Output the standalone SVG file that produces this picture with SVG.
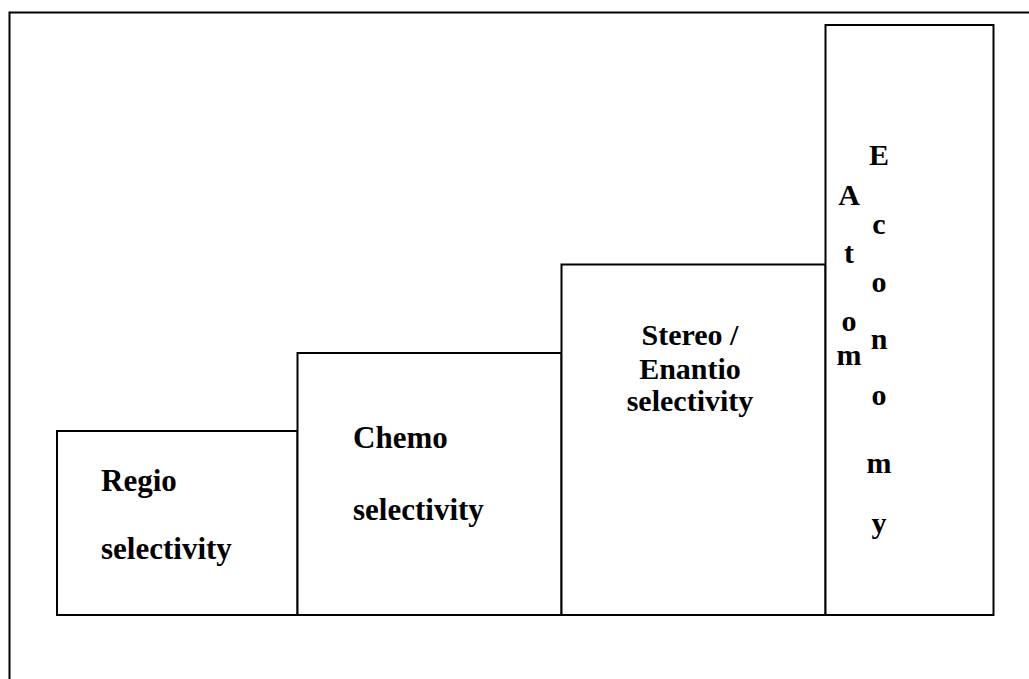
<svg xmlns="http://www.w3.org/2000/svg" width="1029" height="679" viewBox="0 0 1029 679">
<style>
.box{fill:#fff;stroke:#000;stroke-width:2}
.t{font-family:"Liberation Serif","Times New Roman",serif;font-weight:bold;font-size:30px;fill:#000}
.c{text-anchor:middle}
</style>
<rect x="0" y="0" width="1029" height="679" fill="#fff"/>
<path id="frame" d="M9.5 690 V12.5 H1040" fill="none" stroke="#000" stroke-width="2"/>
<g id="regio">
<rect class="box" x="57" y="431" width="240.5" height="184"/>
<text class="t" x="101" y="491" style="font-size:31px">Regio</text>
<text class="t" x="101" y="559" style="font-size:31px">selectivity</text>
</g>
<g id="chemo">
<rect class="box" x="297.5" y="353" width="264" height="262"/>
<text class="t" x="353" y="448" style="font-size:31px">Chemo</text>
<text class="t" x="353" y="520" style="font-size:31px">selectivity</text>
</g>
<g id="stereo">
<rect class="box" x="561.5" y="264.5" width="264" height="350.5"/>
<text class="t c" x="690" y="345">Stereo /</text>
<text class="t c" x="690" y="379">Enantio</text>
<text class="t c" x="690" y="411">selectivity</text>
</g>
<g id="atom">
<rect class="box" x="825.5" y="25" width="168" height="590"/>
<text class="t c" x="849" y="205">A</text>
<text class="t c" x="849" y="263">t</text>
<text class="t c" x="849" y="331">o</text>
<text class="t c" x="849" y="365">m</text>
<text class="t c" x="879" y="165">E</text>
<text class="t c" x="879" y="234">c</text>
<text class="t c" x="879" y="292">o</text>
<text class="t c" x="879" y="349">n</text>
<text class="t c" x="879" y="405">o</text>
<text class="t c" x="879" y="473">m</text>
<text class="t c" x="879" y="533">y</text>
</g>
<g id="connectors"/>
</svg>
